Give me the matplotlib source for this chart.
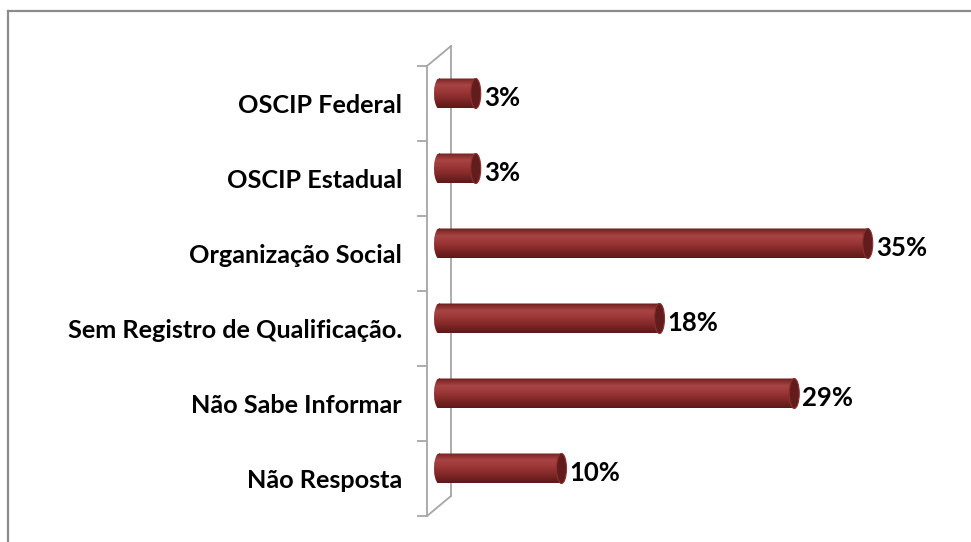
import numpy as np
import matplotlib.pyplot as plt
from matplotlib.patches import Ellipse, Rectangle, PathPatch
from matplotlib.path import Path
from matplotlib.colors import LinearSegmentedColormap
from matplotlib.lines import Line2D

categorias = ['Não Resposta', 'Não Sabe Informar', 'Sem Registro de Qualificação.',
              'Organização Social', 'OSCIP Estadual', 'OSCIP Federal']
valores = [10, 29, 18, 35, 3, 3]
rotulos = ['10%', '29%', '18%', '35%', '3%', '3%']

plt.rcParams['font.family'] = ['Lato', 'DejaVu Sans']

W, H = 971, 542
fig = plt.figure(figsize=(W / 100, H / 100), dpi=100)

# moldura (so topo e esquerda aparecem)
fig.add_artist(Line2D([8 / W, 1], [1 - 11 / H, 1 - 11 / H], color='#8c8c8c', lw=1.6))
fig.add_artist(Line2D([8 / W, 8 / W], [0, 1 - 11 / H], color='#8c8c8c', lw=1.6))

px_pct = 12.25          # pixels por 1%
x0, ytop, ybot = 427, 66, 516
xmax = 40
ax = fig.add_axes([x0 / W, 1 - ybot / H, xmax * px_pct / W, (ybot - ytop) / H])
ax.set_xlim(0, xmax)
ax.set_ylim(-0.5, len(categorias) - 0.5)
ax.patch.set_alpha(0)
for s in ['top', 'right', 'bottom']:
    ax.spines[s].set_visible(False)
ax.spines['left'].set_color('#a6a6a6')
ax.spines['left'].set_linewidth(1.3)
ax.set_xticks([])

band = (ybot - ytop) / len(categorias)   # pixels por categoria
# profundidade da parede 3D
dx = 24 / px_pct
dy = 20 / band
wall = dict(color='#a6a6a6', lw=1.3, clip_on=False)
ax.plot([0, dx], [len(categorias) - 0.5, len(categorias) - 0.5 + dy], **wall)
ax.plot([dx, dx], [len(categorias) - 0.5 + dy, -0.5 + dy], **wall)
ax.plot([0, dx], [-0.5, -0.5 + dy], **wall)

ax.set_yticks(range(len(categorias)))
ax.set_yticklabels(categorias, fontsize=18.2, fontweight='bold', color='black')
ax.set_yticks(np.arange(-0.5, len(categorias)), minor=True)
ax.tick_params(axis='y', which='major', length=0, pad=18)
ax.tick_params(axis='y', which='minor', length=7, color='#a6a6a6', width=1.3)

# cilindros a meia profundidade
cmap = LinearSegmentedColormap.from_list('cil', ['#6e1d1d', '#a84444', '#9a3535', '#7e2626', '#5e1818'])
grad = np.linspace(0, 1, 64).reshape(-1, 1)
ex = dx / 2
hh = 30 / band          # altura da barra
ew = 10 / px_pct        # largura da elipse
for i, v in enumerate(valores):
    yc = i + dy / 2
    xs = ex
    xe = ex + v
    body = Rectangle((xs, yc - hh / 2), v, hh)
    left = Ellipse((xs, yc), ew, hh)
    verts = np.vstack([body.get_verts(), left.get_verts()])
    codes = ([Path.MOVETO] + [Path.LINETO] * (len(body.get_verts()) - 2) + [Path.CLOSEPOLY]
             + [Path.MOVETO] + [Path.LINETO] * (len(left.get_verts()) - 2) + [Path.CLOSEPOLY])
    clip = PathPatch(Path(verts, codes), transform=ax.transData, facecolor='none', edgecolor='none')
    ax.add_patch(clip)
    im = ax.imshow(grad, cmap=cmap, aspect='auto', origin='upper',
                   extent=(xs - ew / 2, xe, yc - hh / 2, yc + hh / 2), zorder=2)
    im.set_clip_path(clip)
    ax.add_patch(Ellipse((xe, yc), ew, hh, facecolor='#631c1c', edgecolor='#8a3030', lw=0.8, zorder=3))
    ax.text(xe + ew / 2 + 0.25, yc - 0.06, rotulos[i], fontsize=18.5, fontweight='bold',
            va='center', ha='left', color='black', zorder=4)

ax.set_xlim(0, xmax)
ax.set_ylim(-0.5, len(categorias) - 0.5)
fig.savefig('out.png', dpi=100)
